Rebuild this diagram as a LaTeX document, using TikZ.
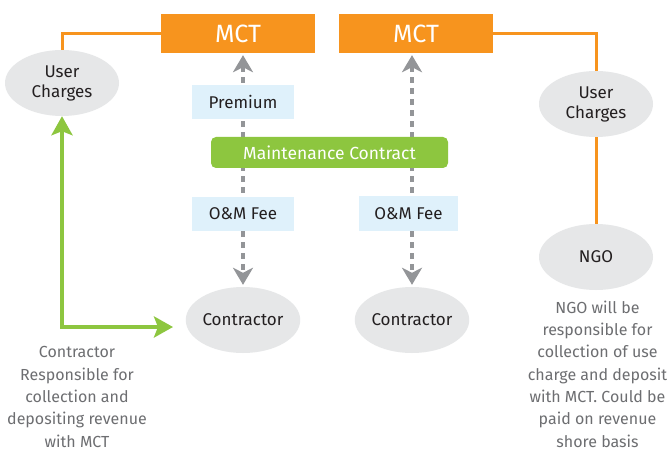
\documentclass[tikz,border=0pt]{standalone}
\usepackage{fontspec}
\setmainfont{Fira Sans}
\usetikzlibrary{arrows.meta,shapes.geometric}
\definecolor{mctorange}{HTML}{F7941E}
\definecolor{mcgreen}{HTML}{8DC63F}
\definecolor{lblue}{HTML}{DFF1FB}
\definecolor{ovalgray}{HTML}{E6E7E8}
\definecolor{arrgray}{HTML}{939598}
\definecolor{descgray}{HTML}{6D6E71}
\definecolor{txtblack}{HTML}{231F20}
\tikzset{
  mctbox/.style={fill=mctorange, text=white, minimum width=154pt, minimum height=39pt, inner sep=0pt, font=\fontsize{25}{28}\selectfont},
  oval/.style={ellipse, fill=ovalgray, text=txtblack, minimum width=114pt, minimum height=66pt, inner sep=0pt, align=center, font=\fontsize{17}{20}\selectfont},
  lblbox/.style={fill=lblue, text=txtblack, minimum width=102pt, minimum height=34pt, inner sep=0pt, font=\fontsize{17}{20}\selectfont},
  mcbox/.style={fill=mcgreen, text=white, rounded corners=5pt, minimum width=237pt, minimum height=31pt, inner sep=0pt, font=\fontsize{17.5}{20}\selectfont},
  desc/.style={text=descgray, align=center, inner sep=0pt, font=\fontsize{16}{22.3}\selectfont},
  oline/.style={draw=mctorange, line width=3pt},
  gdash/.style={draw=arrgray, line width=4.5pt, dash pattern=on 6pt off 5pt, {Stealth[length=17pt,width=20pt,inset=5pt]}-{Stealth[length=17pt,width=20pt,inset=5pt]}, shorten <=2pt, shorten >=2pt},
  garrow/.style={draw=mcgreen, line width=4pt, {Stealth[length=19pt,width=21pt,inset=4pt]}-{Stealth[length=19pt,width=21pt,inset=4pt]}}
}
\begin{document}
\begin{tikzpicture}[x=1pt,y=-1pt]
\useasboundingbox (0,0) rectangle (671,454);
\fill[white] (0,0) rectangle (671,454);
% nodes
\node[mctbox] (mct1) at (238,33.5) {MCT};
\node[mctbox] (mct2) at (416,33.5) {MCT};
\node[oval] (uc1) at (62,83) {User\\Charges};
\node[oval] (uc2) at (596,104) {User\\Charges};
\node[oval] (ngo) at (596,257) {NGO};
\node[oval] (con1) at (243,320) {Contractor};
\node[oval] (con2) at (412,320) {Contractor};
% orange connectors
\draw[oline] (mct1.west) -| (uc1.north);
\draw[oline] (mct2.east) -| (uc2.north);
\draw[oline] (uc2.south) -- (ngo.north);
% dashed arrows
\draw[gdash] (con1.north |- mct1.south) -- (con1.north);
\draw[gdash] (con2.north |- mct2.south) -- (con2.north);
% label boxes
\node[lblbox] (prem) at (243,102) {Premium};
\node[mcbox] (mc) at (329.5,152.5) {Maintenance Contract};
\node[lblbox] (om1) at (243,214) {O\&M Fee};
\node[lblbox, minimum width=99pt] (om2) at (408.5,213.5) {O\&M Fee};
% green arrow
\coordinate (gc) at (62,327);
\coordinate (ge) at (173,327);
\draw[garrow] (uc1.south) -- (gc) -- (ge);
% descriptions
\node[desc] (d1) at (77,397) {Contractor\\Responsible for\\collection and\\depositing revenue\\with MCT};
\node[desc] (d2) at (597.5,374) {NGO will be\\responsible for\\collection of use\\charge and deposit\\with MCT. Could be\\paid on revenue\\shore basis};
\end{tikzpicture}
\end{document}
